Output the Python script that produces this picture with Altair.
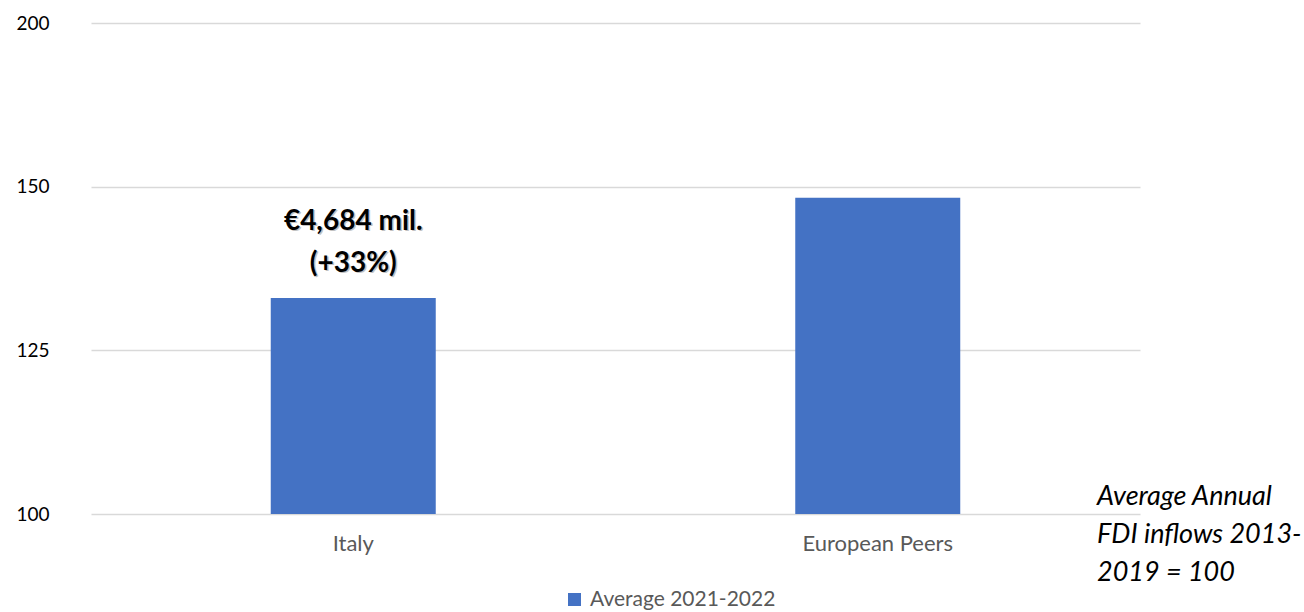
import altair as alt
import pandas as pd

categories = ["Italy", "European Peers"]
values = [133.0, 148.3]
series_name = "Average 2021-2022"
bar_labels = ["€4,684 mil.\n(+33%)", ""]
tick_values = [100, 125, 150, 175]
tick_labels = ["100", "125", "150", "200"]
note_lines = ["Average Annual", "FDI inflows 2013-", "2019 = 100"]

df = pd.DataFrame({"cat": categories, "val": values, "series": [series_name] * 2, "lab": bar_labels})
lab_df = df[df["lab"] != ""]

FONT = "Lato"
BLUE = "#4472C4"

label_expr = "{" + ",".join(f"'{v}':'{l}'" for v, l in zip(tick_values, tick_labels)) + "}[datum.value]"

x = alt.X("cat:N", sort=categories, title=None,
          scale=alt.Scale(paddingInner=0, paddingOuter=0),
          axis=alt.Axis(labelAngle=0, domain=False, ticks=False, labelFont=FONT,
                        labelFontSize=22, labelColor="#595959", labelPadding=19))
y = alt.Y("val:Q", title=None,
          scale=alt.Scale(domain=[100, 175], nice=False, zero=False),
          axis=alt.Axis(values=tick_values, labelExpr=label_expr, domain=False, ticks=False,
                        labelFont=FONT, labelFontSize=19, labelColor="#000000",
                        labelPadding=42, gridColor="#d9d9d9", gridWidth=1.5))

bars = alt.Chart(df).mark_bar(size=165, color=BLUE).encode(
    x=x, y=y, y2=alt.datum(100),
    color=alt.Color("series:N", scale=alt.Scale(range=[BLUE]), title=None,
                    legend=alt.Legend(orient="none", legendX=473, legendY=566, symbolType="square",
                                      symbolSize=170, symbolStrokeWidth=0, labelFont=FONT,
                                      labelFontSize=21, labelColor="#595959", labelLimit=0,
                                      labelOffset=5)),
)

shadow = alt.Chart(lab_df).mark_text(font=FONT, fontSize=28, fontWeight="bold", color="#9a9a9a",
                                     opacity=0.6, baseline="alphabetic", lineBreak="\n", lineHeight=42,
                                     dx=1.5, dy=-66.5).encode(
    x=alt.X("cat:N", sort=categories), y="val:Q", text="lab:N")
texts = alt.Chart(lab_df).mark_text(font=FONT, fontSize=28, fontWeight="bold", color="#000000",
                                    baseline="alphabetic", lineBreak="\n", lineHeight=42, dy=-68).encode(
    x=alt.X("cat:N", sort=categories), y="val:Q", text="lab:N")

note_df = pd.DataFrame({"t": ["\n".join(note_lines)]})
note = alt.Chart(note_df).mark_text(font=FONT, fontSize=27, fontStyle="italic", color="#000000",
                                    align="left", baseline="alphabetic", lineBreak="\n", lineHeight=38).encode(
    x=alt.value(1006), y=alt.value(482), text="t:N")

chart = alt.layer(bars, shadow, texts, note).properties(
    width=1049, height=491, autosize="none", background="white",
    padding={"left": 91, "top": 23, "right": 164, "bottom": 98},
).configure_view(strokeWidth=0)

chart.save("out.html", embed_options={"renderer": "svg", "actions": False})
